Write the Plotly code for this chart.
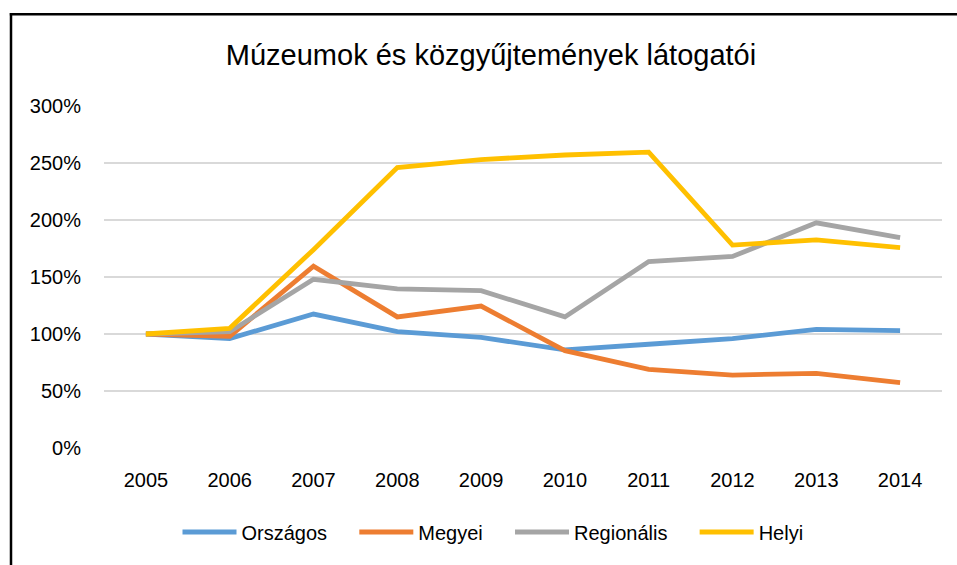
import plotly.graph_objects as go

years = ["2005", "2006", "2007", "2008", "2009", "2010", "2011", "2012", "2013", "2014"]
orszagos = [100, 96, 117.5, 102, 97, 86, 91, 96, 104, 103]
megyei = [100, 98, 159.5, 115, 124.5, 85.4, 69, 64, 65.5, 57.3]
regionalis = [100, 102, 148, 139.5, 138, 115, 163.5, 168, 197.5, 184.5]
helyi = [100, 105, 174, 246, 253, 257, 259.5, 178, 182.5, 175.7]

series_names = ["Országos", "Megyei", "Regionális", "Helyi"]
series_values = [orszagos, megyei, regionalis, helyi]
colors = ["#5B9BD5", "#ED7D31", "#A5A5A5", "#FFC000"]

y_ticks = [0, 50, 100, 150, 200, 250, 300]
y_tick_labels = ["0%", "50%", "100%", "150%", "200%", "250%", "300%"]

FONT = "Liberation Sans, Arial, sans-serif"
PAD = "\u00a0\u00a0\u00a0\u00a0"

fig = go.Figure()
for i, (name, vals, col) in enumerate(zip(series_names, series_values, colors)):
    fig.add_trace(go.Scatter(
        x=years, y=vals, name=name + (PAD if i < len(series_names) - 1 else ""),
        mode="lines", line=dict(color=col, width=4.8),
    ))

W, H = 957, 565
L, T = 104, 106
pw, ph = 838, 342
R, B = W - L - pw, H - T - ph

def px2x(px):
    return (px - L) / pw

def px2y(py):
    return (T + ph - py) / ph

# chart frame: only the left and top edges fall inside the window
fig.add_shape(type="line", xref="paper", yref="paper",
              x0=px2x(11), x1=px2x(11), y0=px2y(700), y1=px2y(13.1),
              line=dict(color="black", width=2.5), layer="above")
fig.add_shape(type="line", xref="paper", yref="paper",
              x0=px2x(9.8), x1=px2x(1200), y0=px2y(14.3), y1=px2y(14.3),
              line=dict(color="black", width=2.5), layer="above")

fig.update_layout(
    width=W, height=H,
    margin=dict(l=L, r=R, t=T, b=B),
    paper_bgcolor="white", plot_bgcolor="white",
    font=dict(family=FONT, color="#000000", size=20),
    title=dict(text="Múzeumok és közgyűjtemények látogatói",
               x=px2x(491), xanchor="center", xref="paper",
               y=1 - 55 / H, yanchor="middle",
               font=dict(family=FONT, size=29, color="#000000")),
    showlegend=True,
    legend=dict(orientation="h", x=px2x(493), xanchor="center", y=px2y(532), yanchor="middle",
                font=dict(family=FONT, size=20, color="#000000"),
                itemwidth=54, traceorder="normal"),
    xaxis=dict(type="category", range=[-0.5, 9.5], showgrid=False, zeroline=False,
               showline=False, ticks="", tickfont=dict(size=20), ticklabelstandoff=18),
    yaxis=dict(range=[0, 300], tickvals=y_ticks, ticktext=y_tick_labels,
               showgrid=True, gridcolor="#D9D9D9", gridwidth=1.5, zeroline=False,
               showline=False, ticks="", tickfont=dict(size=20), ticklabelstandoff=22),
)

fig.write_html(
    "out.html",
    config={"displayModeBar": False},
    post_script="document.body.style.margin='0';document.body.style.overflow='hidden';",
)
